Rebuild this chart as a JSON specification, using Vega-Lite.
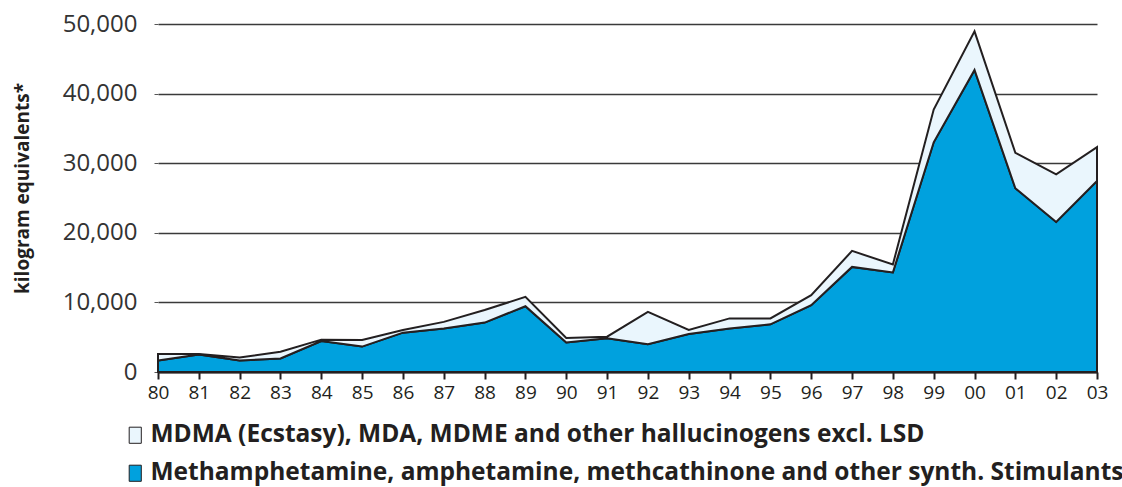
{
  "$schema": "https://vega.github.io/schema/vega-lite/v6.json",
  "autosize": "none",
  "width": 939,
  "height": 348,
  "padding": {"left": 158, "top": 24, "right": 25, "bottom": 115},
  "background": "white",
  "config": {"view": {"stroke": null}, "font": "Open Sans"},
  "data": {"values": [
    {"year": "80", "series": "Methamphetamine, amphetamine, methcathinone and other synth. Stimulants", "value": 1650},
    {"year": "81", "series": "Methamphetamine, amphetamine, methcathinone and other synth. Stimulants", "value": 2500},
    {"year": "82", "series": "Methamphetamine, amphetamine, methcathinone and other synth. Stimulants", "value": 1650},
    {"year": "83", "series": "Methamphetamine, amphetamine, methcathinone and other synth. Stimulants", "value": 1950},
    {"year": "84", "series": "Methamphetamine, amphetamine, methcathinone and other synth. Stimulants", "value": 4450},
    {"year": "85", "series": "Methamphetamine, amphetamine, methcathinone and other synth. Stimulants", "value": 3650},
    {"year": "86", "series": "Methamphetamine, amphetamine, methcathinone and other synth. Stimulants", "value": 5650},
    {"year": "87", "series": "Methamphetamine, amphetamine, methcathinone and other synth. Stimulants", "value": 6250},
    {"year": "88", "series": "Methamphetamine, amphetamine, methcathinone and other synth. Stimulants", "value": 7100},
    {"year": "89", "series": "Methamphetamine, amphetamine, methcathinone and other synth. Stimulants", "value": 9450},
    {"year": "90", "series": "Methamphetamine, amphetamine, methcathinone and other synth. Stimulants", "value": 4250},
    {"year": "91", "series": "Methamphetamine, amphetamine, methcathinone and other synth. Stimulants", "value": 4850},
    {"year": "92", "series": "Methamphetamine, amphetamine, methcathinone and other synth. Stimulants", "value": 4000},
    {"year": "93", "series": "Methamphetamine, amphetamine, methcathinone and other synth. Stimulants", "value": 5450},
    {"year": "94", "series": "Methamphetamine, amphetamine, methcathinone and other synth. Stimulants", "value": 6250},
    {"year": "95", "series": "Methamphetamine, amphetamine, methcathinone and other synth. Stimulants", "value": 6850},
    {"year": "96", "series": "Methamphetamine, amphetamine, methcathinone and other synth. Stimulants", "value": 9600},
    {"year": "97", "series": "Methamphetamine, amphetamine, methcathinone and other synth. Stimulants", "value": 15100},
    {"year": "98", "series": "Methamphetamine, amphetamine, methcathinone and other synth. Stimulants", "value": 14300},
    {"year": "99", "series": "Methamphetamine, amphetamine, methcathinone and other synth. Stimulants", "value": 33000},
    {"year": "00", "series": "Methamphetamine, amphetamine, methcathinone and other synth. Stimulants", "value": 43400},
    {"year": "01", "series": "Methamphetamine, amphetamine, methcathinone and other synth. Stimulants", "value": 26400},
    {"year": "02", "series": "Methamphetamine, amphetamine, methcathinone and other synth. Stimulants", "value": 21550},
    {"year": "03", "series": "Methamphetamine, amphetamine, methcathinone and other synth. Stimulants", "value": 27450},
    {"year": "80", "series": "MDMA (Ecstasy), MDA, MDME and other hallucinogens excl. LSD", "value": 950},
    {"year": "81", "series": "MDMA (Ecstasy), MDA, MDME and other hallucinogens excl. LSD", "value": 100},
    {"year": "82", "series": "MDMA (Ecstasy), MDA, MDME and other hallucinogens excl. LSD", "value": 450},
    {"year": "83", "series": "MDMA (Ecstasy), MDA, MDME and other hallucinogens excl. LSD", "value": 950},
    {"year": "84", "series": "MDMA (Ecstasy), MDA, MDME and other hallucinogens excl. LSD", "value": 200},
    {"year": "85", "series": "MDMA (Ecstasy), MDA, MDME and other hallucinogens excl. LSD", "value": 950},
    {"year": "86", "series": "MDMA (Ecstasy), MDA, MDME and other hallucinogens excl. LSD", "value": 380},
    {"year": "87", "series": "MDMA (Ecstasy), MDA, MDME and other hallucinogens excl. LSD", "value": 950},
    {"year": "88", "series": "MDMA (Ecstasy), MDA, MDME and other hallucinogens excl. LSD", "value": 1800},
    {"year": "89", "series": "MDMA (Ecstasy), MDA, MDME and other hallucinogens excl. LSD", "value": 1350},
    {"year": "90", "series": "MDMA (Ecstasy), MDA, MDME and other hallucinogens excl. LSD", "value": 630},
    {"year": "91", "series": "MDMA (Ecstasy), MDA, MDME and other hallucinogens excl. LSD", "value": 220},
    {"year": "92", "series": "MDMA (Ecstasy), MDA, MDME and other hallucinogens excl. LSD", "value": 4650},
    {"year": "93", "series": "MDMA (Ecstasy), MDA, MDME and other hallucinogens excl. LSD", "value": 580},
    {"year": "94", "series": "MDMA (Ecstasy), MDA, MDME and other hallucinogens excl. LSD", "value": 1450},
    {"year": "95", "series": "MDMA (Ecstasy), MDA, MDME and other hallucinogens excl. LSD", "value": 850},
    {"year": "96", "series": "MDMA (Ecstasy), MDA, MDME and other hallucinogens excl. LSD", "value": 1450},
    {"year": "97", "series": "MDMA (Ecstasy), MDA, MDME and other hallucinogens excl. LSD", "value": 2300},
    {"year": "98", "series": "MDMA (Ecstasy), MDA, MDME and other hallucinogens excl. LSD", "value": 1150},
    {"year": "99", "series": "MDMA (Ecstasy), MDA, MDME and other hallucinogens excl. LSD", "value": 4700},
    {"year": "00", "series": "MDMA (Ecstasy), MDA, MDME and other hallucinogens excl. LSD", "value": 5550},
    {"year": "01", "series": "MDMA (Ecstasy), MDA, MDME and other hallucinogens excl. LSD", "value": 5100},
    {"year": "02", "series": "MDMA (Ecstasy), MDA, MDME and other hallucinogens excl. LSD", "value": 6850},
    {"year": "03", "series": "MDMA (Ecstasy), MDA, MDME and other hallucinogens excl. LSD", "value": 4850}
  ]},
  "mark": {"type": "area", "stroke": "#231F20", "strokeWidth": 2, "strokeJoin": "miter", "opacity": 1, "fillOpacity": 1},
  "encoding": {
    "x": {
      "field": "year", "type": "ordinal", "sort": null,
      "scale": {"type": "point", "padding": 0},
      "axis": {
        "title": null, "labelAngle": 0, "labelFont": "Open Sans", "labelFontSize": 19, "labelColor": "#231F20",
        "labelPadding": 4, "tickSize": 7, "tickWidth": 2, "tickColor": "#231F20",
        "domainColor": "#231F20", "domainWidth": 2, "grid": false
      }
    },
    "y": {
      "field": "value", "type": "quantitative", "stack": "zero",
      "scale": {"domain": [0, 50000], "nice": false},
      "axis": {
        "title": "kilogram equivalents*", "titleFont": "Open Sans", "titleFontSize": 19, "titleFontWeight": "bold",
        "titleColor": "#231F20", "titleX": -126, "titleY": 164, "titleAngle": 270, "titleBaseline": "bottom", "titleAlign": "center",
        "values": [0, 10000, 20000, 30000, 40000, 50000], "format": ",d",
        "labelFont": "Open Sans", "labelFontSize": 24, "labelColor": "#333333", "labelPadding": 17,
        "domain": false, "tickSize": 4, "tickColor": "#555", "tickWidth": 1,
        "grid": true, "gridColor": "#3a3a3a", "gridWidth": 1.5
      }
    },
    "fill": {
      "field": "series", "type": "nominal",
      "scale": {
        "domain": ["MDMA (Ecstasy), MDA, MDME and other hallucinogens excl. LSD", "Methamphetamine, amphetamine, methcathinone and other synth. Stimulants"],
        "range": ["#EAF6FD", "#00A1DE"]
      },
      "legend": {
        "title": null, "orient": "none", "legendX": -35, "legendY": 399, "direction": "vertical",
        "symbolType": "M-0.75,-1H0.75V1H-0.75Z", "symbolSize": 260, "symbolStrokeColor": "#231F20", "symbolStrokeWidth": 1,
        "labelFont": "Open Sans", "labelFontSize": 24.5, "labelFontWeight": "bold", "labelColor": "#231F20",
        "labelLimit": 1100, "rowPadding": 13, "labelOffset": 3
      }
    },
    "order": {"field": "series", "sort": "descending"}
  }
}
